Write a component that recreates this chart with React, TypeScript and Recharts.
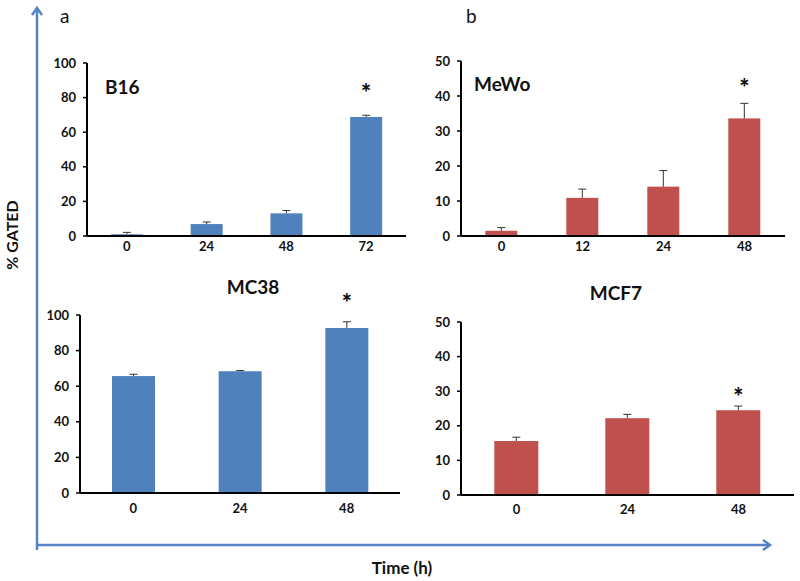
import { BarChart, Bar, XAxis, YAxis } from 'recharts'

// hours after treatment, % gated cells, error (+ only)
const b16Times = ['0', '24', '48', '72']
const b16Values = [1.0, 6.9, 13.1, 68.8]
const b16Errors = [1.1, 1.2, 1.6, 1.0]
const b16Stars = [false, false, false, true]

const mewoTimes = ['0', '12', '24', '48']
const mewoValues = [1.5, 10.9, 14.1, 33.6]
const mewoErrors = [0.9, 2.5, 4.6, 4.3]
const mewoStars = [false, false, false, true]

const mc38Times = ['0', '24', '48']
const mc38Values = [65.7, 68.4, 92.7]
const mc38Errors = [1.0, 0.4, 3.5]
const mc38Stars = [false, false, true]

const mcf7Times = ['0', '24', '48']
const mcf7Values = [15.6, 22.2, 24.5]
const mcf7Errors = [1.1, 1.1, 1.2]
const mcf7Stars = [false, false, true]

const ticks100 = [0, 20, 40, 60, 80, 100]
const ticks50 = [0, 10, 20, 30, 40, 50]

const BLUE = '#4F81BD'
const RED = '#C0504D'
const ARROW = '#5585C5'
const FONT = 'Lato, "Open Sans", sans-serif'

type Box = { x0: number; x1: number; y0: number; y1: number }

const makeRows = (times: string[], values: number[], errors: number[], stars: boolean[]) =>
  times.map((t, i) => ({ t, v: values[i], e: errors[i], star: stars[i] }))

function BarWithError(props: any) {
  const { x, y, width, height, fill, payload, starGap } = props
  const perUnit = payload.v > 0 ? height / payload.v : 0
  const top = y - payload.e * perUnit
  const cx = x + width / 2
  return (
    <g>
      <rect x={x} y={y} width={width} height={height} fill={fill} />
      <line x1={cx} x2={cx} y1={y} y2={top} stroke="#333" strokeWidth={1} />
      <line x1={cx - 4} x2={cx + 4} y1={top} y2={top} stroke="#333" strokeWidth={1} />
      {payload.star && (
        <text x={cx} y={top - starGap + 14} textAnchor="middle" fontFamily={FONT} fontWeight={900} fontSize={24} fill="#111">
          *
        </text>
      )}
    </g>
  )
}

function Panel({ box, rows, max, ticks, color, starGap, labelGap }: {
  box: Box; rows: any[]; max: number; ticks: number[]; color: string; starGap: number; labelGap: number
}) {
  const yw = 40
  const mt = 40
  const mr = 10
  const n = rows.length
  const bounds = rows.map((_, i) => i).concat(n)
  const plotW = box.x1 - box.x0
  const plotH = box.y1 - box.y0
  const tickFont = { fontFamily: FONT, fontWeight: 700, fontSize: 13, fill: '#111' }
  return (
    <div style={{ position: 'absolute', left: box.x0 - yw, top: box.y0 - mt }}>
      <BarChart
        width={yw + plotW + mr}
        height={mt + plotH + 31}
        data={rows}
        margin={{ top: mt, right: mr, left: 0, bottom: 0 }}
        barCategoryGap="30%"
      >
        <XAxis
          xAxisId="bounds"
          type="number"
          domain={[0, n]}
          ticks={bounds}
          interval={0}
          allowDataOverflow
          height={1}
          tick={false}
          tickSize={5}
          axisLine={{ stroke: '#000', strokeWidth: 2 }}
          tickLine={{ stroke: '#000', strokeWidth: 1.5 }}
        />
        <XAxis
          xAxisId="cat"
          dataKey="t"
          height={30}
          axisLine={false}
          tickLine={false}
          tickSize={0}
          tickMargin={labelGap}
          tick={tickFont}
        />
        <YAxis
          domain={[0, max]}
          ticks={ticks}
          interval={0}
          width={yw}
          tickSize={4}
          tickMargin={7}
          axisLine={{ stroke: '#000', strokeWidth: 2 }}
          tickLine={{ stroke: '#000', strokeWidth: 1.5 }}
          tick={tickFont}
        />
        <Bar
          xAxisId="cat"
          dataKey="v"
          fill={color}
          isAnimationActive={false}
          shape={(p: any) => <BarWithError {...p} starGap={starGap} />}
        />
      </BarChart>
    </div>
  )
}

export default function App() {
  return (
    <div style={{ position: 'absolute', left: 0, top: 0, width: 800, height: 581, background: '#fff', overflow: 'hidden' }}>
      <Panel box={{ x0: 87, x1: 406, y0: 63, y1: 236 }} rows={makeRows(b16Times, b16Values, b16Errors, b16Stars)}
        max={100} ticks={ticks100} color={BLUE} starGap={27} labelGap={5} />
      <Panel box={{ x0: 461, x1: 785, y0: 61, y1: 236 }} rows={makeRows(mewoTimes, mewoValues, mewoErrors, mewoStars)}
        max={50} ticks={ticks50} color={RED} starGap={20} labelGap={5} />
      <Panel box={{ x0: 80, x1: 400, y0: 315, y1: 493 }} rows={makeRows(mc38Times, mc38Values, mc38Errors, mc38Stars)}
        max={100} ticks={ticks100} color={BLUE} starGap={24} labelGap={10} />
      <Panel box={{ x0: 461, x1: 794, y0: 322, y1: 495 }} rows={makeRows(mcf7Times, mcf7Values, mcf7Errors, mcf7Stars)}
        max={50} ticks={ticks50} color={RED} starGap={14} labelGap={9} />

      {/* overlay: panel letters, titles, arrows */}
      <svg width={800} height={581} style={{ position: 'absolute', left: 0, top: 0, pointerEvents: 'none' }}>
        <line x1={37} y1={550} x2={37} y2={9} stroke={ARROW} strokeWidth={2.5} />
        <polyline points="32,15 37,8 42,15" fill="none" stroke={ARROW} strokeWidth={2.5} />
        <line x1={37} y1={545} x2={769} y2={545} stroke={ARROW} strokeWidth={2.5} />
        <polyline points="763,540 770,545 763,550" fill="none" stroke={ARROW} strokeWidth={2.5} />

        <text x={60} y={23} fontFamily={FONT} fontSize={19} fill="#111">a</text>
        <text x={466} y={23} fontFamily={FONT} fontSize={19} fill="#111">b</text>

        <text x={105} y={94} fontFamily={FONT} fontWeight={700} fontSize={19} fill="#111">B16</text>
        <text x={474} y={91} fontFamily={FONT} fontWeight={700} fontSize={19} fill="#111">MeWo</text>
        <text x={253} y={294} textAnchor="middle" fontFamily={FONT} fontWeight={700} fontSize={19} fill="#111">MC38</text>
        <text x={616} y={300} textAnchor="middle" fontFamily={FONT} fontWeight={700} fontSize={19} fill="#111">MCF7</text>

        <text transform="translate(18,235) rotate(-90)" textAnchor="middle" fontFamily={FONT} fontWeight={700} fontSize={16} fill="#111">% GATED</text>
        <text x={402} y={574} textAnchor="middle" fontFamily={FONT} fontWeight={700} fontSize={17} fill="#111">Time (h)</text>
      </svg>
    </div>
  )
}
